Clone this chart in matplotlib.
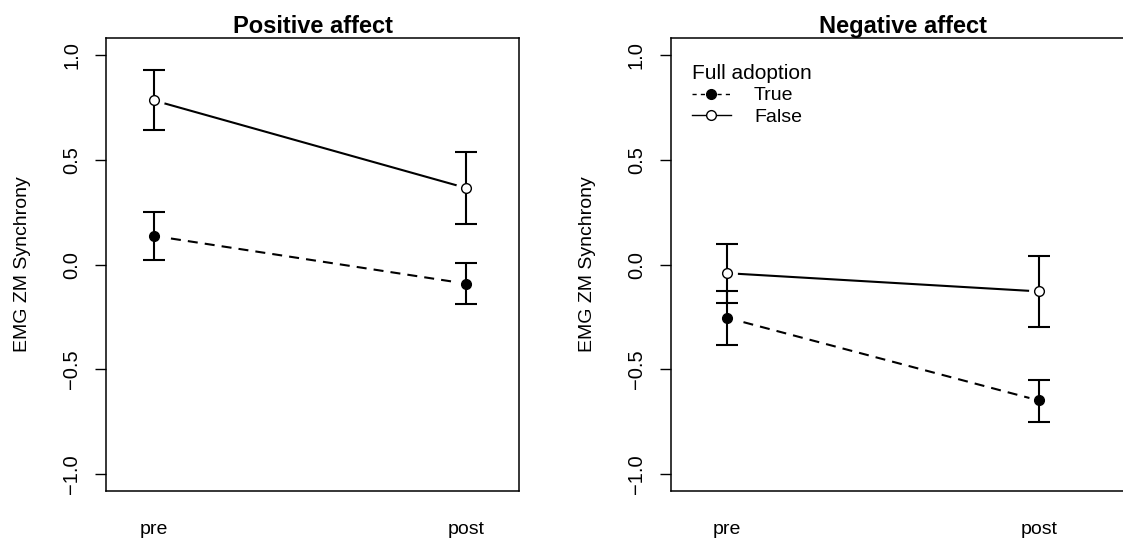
import numpy as np
import matplotlib
matplotlib.use("Agg")
import matplotlib.pyplot as plt
from matplotlib.lines import Line2D

plt.rcParams['font.family'] = ['Liberation Sans', 'DejaVu Sans']

times = ["pre", "post"]
panels = ["Positive affect", "Negative affect"]

# means and 95% CI bounds, per panel, per group
pos_true = [0.137, -0.091]
pos_true_lo = [0.020, -0.190]
pos_true_hi = [0.253, 0.006]
pos_false = [0.784, 0.366]
pos_false_lo = [0.642, 0.196]
pos_false_hi = [0.928, 0.537]

neg_true = [-0.254, -0.649]
neg_true_lo = [-0.382, -0.750]
neg_true_hi = [-0.128, -0.549]
neg_false = [-0.041, -0.128]
neg_false_lo = [-0.182, -0.299]
neg_false_hi = [0.100, 0.043]

yticks = [-1.0, -0.5, 0.0, 0.5, 1.0]

fig = plt.figure(figsize=(11.23, 5.39), dpi=100)
ax1 = fig.add_axes([0.0944, 0.0896, 0.3678, 0.839])
ax2 = fig.add_axes([0.5975, 0.0896, 0.413, 0.839])

x = np.arange(1, len(times) + 1)


def draw_group(ax, m, lo, hi, dashed, filled):
    ls = (0, (4.8, 3.4)) if dashed else "-"
    ax.plot(x, m, color="black", lw=1.5, ls=ls, zorder=1)
    # white halo so the line stops short of the point, like R type="b"
    ax.plot(x, m, "o", ms=15, mfc="white", mec="none", zorder=2)
    m = np.array(m)
    err = [m - np.array(lo), np.array(hi) - m]
    ax.errorbar(x, m, yerr=err, fmt="none", ecolor="black", elinewidth=1.5,
                capsize=7.9, capthick=1.5, zorder=3)
    ax.plot(x, m, "o", ms=7, mec="black", mew=1,
            mfc="black" if filled else "white", zorder=4)


draw_group(ax1, pos_true, pos_true_lo, pos_true_hi, True, True)
draw_group(ax1, pos_false, pos_false_lo, pos_false_hi, False, False)
draw_group(ax2, neg_true, neg_true_lo, neg_true_hi, True, True)
draw_group(ax2, neg_false, neg_false_lo, neg_false_hi, False, False)

for ax, title in zip([ax1, ax2], panels):
    ax.set_ylim(-1.08, 1.08)
    ax.set_yticks(yticks)
    ax.set_yticklabels([("%.1f" % v).replace("-", "\u2212") for v in yticks],
                       rotation=90, va="center")
    ax.set_xticks(x)
    ax.set_xticklabels(times)
    ax.tick_params(axis="x", length=0, pad=22, labelsize=14)
    ax.tick_params(axis="y", length=8, width=1, pad=10, labelsize=14.5, direction="out")
    ax.set_ylabel("EMG ZM Synchrony", fontsize=14, labelpad=22)
    ax.set_title(title, fontsize=17, fontweight="bold", pad=4)
    for s in ax.spines.values():
        s.set_linewidth(1.1)

ax1.set_xlim(0.846, 2.17)
ax2.set_xlim(0.8205, 2.308)
ax2.spines["right"].set_visible(False)

handles = [
    Line2D([], [], color="black", lw=1, ls=(0, (3, 3)), marker="o", ms=7,
           mfc="black", mec="black"),
    Line2D([], [], color="black", lw=1, ls="-", marker="o", ms=7,
           mfc="white", mec="black"),
]
leg = ax2.legend(handles, ["True", "False"], title="Full adoption",
                 loc="upper left", bbox_to_anchor=(0.045, 0.944), frameon=False,
                 fontsize=14, title_fontsize=15, borderpad=0, borderaxespad=0,
                 handlelength=2.0, handletextpad=1.2, labelspacing=0.2,
                 alignment="left")

fig.savefig("out.png", dpi=100)
